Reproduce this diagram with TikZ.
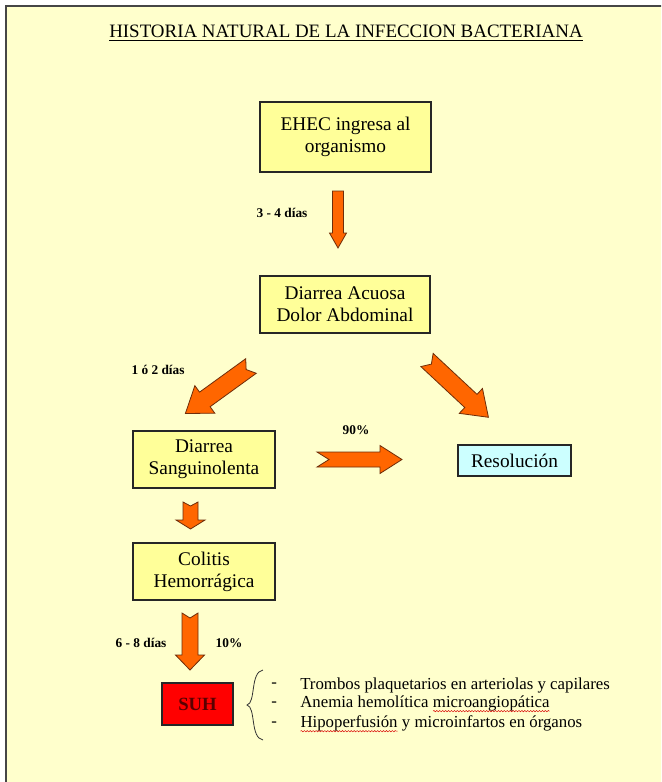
\documentclass[tikz,border=0pt]{standalone}
\usepackage{fontspec}
\setmainfont{LiberationSerif}[Extension=.ttf, UprightFont=*-Regular, BoldFont=*-Bold, ItalicFont=*-Italic, BoldItalicFont=*-BoldItalic]
\usetikzlibrary{decorations.pathmorphing}
\definecolor{bg}{RGB}{255,255,204}
\definecolor{boxy}{RGB}{255,255,153}
\definecolor{cyanbox}{RGB}{204,255,255}
\definecolor{arrowor}{RGB}{255,102,0}
\definecolor{arrowed}{RGB}{110,45,10}
\definecolor{framec}{RGB}{70,70,70}
\definecolor{suhred}{RGB}{255,0,0}
\definecolor{suhtext}{RGB}{90,0,0}
\newcommand\squigword[1]{\tikz[baseline=(w.base)]{\node[inner sep=0pt,outer sep=0pt](w){#1};\draw[red!85!black, line width=0.35pt, decorate, decoration={snake, amplitude=0.5pt, segment length=2.2pt}] ([yshift=-2.6pt]w.base west) -- ([yshift=-2.6pt]w.base east);}}
\begin{document}
\begin{tikzpicture}[x=0.75pt,y=-0.75pt,
  box/.style={draw=black!85, line width=1.1pt, fill=boxy, align=center, inner sep=0pt, font=\fontsize{14.5}{16.5}\selectfont},
  lbl/.style={font=\bfseries\fontsize{10}{12}\selectfont, inner sep=0pt},
  item/.style={font=\fontsize{12.6}{14}\selectfont, inner sep=0pt, anchor=west},
  arrowfill/.style={fill=arrowor, draw=arrowed, line width=0.6pt, line join=miter},
  pics/barrow/.style n args={5}{code={\path[arrowfill] (0,#2) -- (#1-#4,#2) -- (#1-#4,#3) -- (#1,0) -- (#1-#4,-#3) -- (#1-#4,-#2) -- (0,-#2) -- (#5,0) -- cycle;}}
]
\useasboundingbox (0,0) rectangle (661,782);
\clip (0,0) rectangle (661,782);
\fill[white] (0,0) rectangle (661,782);
\path[fill=bg, draw=framec, line width=1.5pt] (6,6) rectangle (700,830);

% title
\node[font=\fontsize{14.2}{16}\selectfont, inner sep=0pt] (title) at (346,33) {\underline{HISTORIA NATURAL DE LA INFECCION BACTERIANA}};

% boxes
\node[box, minimum width=128.25pt, minimum height=52.5pt] (ehec) at (345.5,137) {EHEC ingresa al\\organismo};
\node[box, minimum width=127.5pt, minimum height=42.75pt] (acuosa) at (345,304.5) {Diarrea Acuosa\\Dolor Abdominal};
\node[box, minimum width=106.5pt, minimum height=42.75pt] (sangui) at (204,459.5) {Diarrea\\Sanguinolenta};
\node[box, minimum width=106.5pt, minimum height=42.75pt] (colitis) at (204,571.5) {Colitis\\Hemorrágica};
\node[box, fill=cyanbox, minimum width=84.75pt, minimum height=23.25pt] (resol) at (514.5,460.5) {Resolución};
\node[box, fill=suhred, minimum width=53.25pt, minimum height=31.5pt, font=\bfseries\fontsize{14}{16}\selectfont, text=suhtext] (suh) at (197.5,704) {SUH};

% labels
\node[lbl] (l34) at (282,213) {3 - 4 días};
\node[lbl] (l12) at (158,370) {1 ó 2 días};
\node[lbl] (l90) at (356,430) {90\%};
\node[lbl] (l68) at (141,643) {6 - 8 días};
\node[lbl] (l10) at (229,643) {10\%};

% block arrows (tail coordinates)
\coordinate (a1) at (338,191);
\coordinate (a2) at (251,366);
\coordinate (a3) at (427,360);
\coordinate (a4) at (317,459.5);
\coordinate (a5) at (190.5,502);
\coordinate (a6) at (190,613);
\pic[rotate=-90] at (a1) {barrow={57}{5.5}{8.5}{15}{0}};
\pic[rotate=215.9] at (a2) {barrow={81}{9}{17}{24}{6}};
\pic[rotate=-43] at (a3) {barrow={84}{9}{17}{24}{6}};
\pic at (a4) {barrow={85}{7.5}{14}{22}{12}};
\pic[rotate=-90] at (a5) {barrow={27}{7.5}{14.5}{9}{4}};
\pic[rotate=-90] at (a6) {barrow={57}{8}{14.5}{15}{5}};

% brace
\coordinate (bt) at (263,670);
\coordinate (bm) at (247,705);
\coordinate (bb) at (263,740);
\draw[line width=0.6pt, black!80] (bt) .. controls (250,672) and (256,703) .. (bm) .. controls (256,707) and (250,738) .. (bb);

% list
\node[item] (d1) at (271,685) {-};
\node[item] (d2) at (271,704) {-};
\node[item] (d3) at (271,724) {-};
\node[item] (t1) at (300,685) {Trombos plaquetarios en arteriolas y capilares};
\node[item] (t2) at (300,704) {Anemia hemolítica \squigword{microangiopática}};
\node[item] (t3) at (300,724) {\squigword{Hipoperfusión} y microinfartos en órganos};
\end{tikzpicture}
\end{document}
